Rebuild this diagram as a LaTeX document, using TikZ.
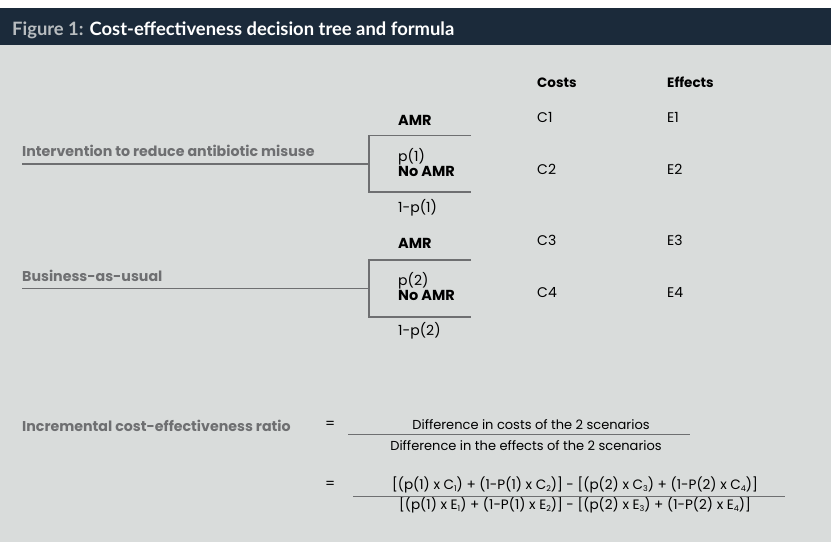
\documentclass[tikz,border=0pt]{standalone}
\usepackage{fontspec}
\setmainfont{Poppins}
\newfontfamily\titlefont{Lato}
\usetikzlibrary{positioning}
\definecolor{bandblue}{HTML}{1B2A3A}
\definecolor{panelgrey}{HTML}{D9DCDB}
\definecolor{labelgrey}{HTML}{6E6F71}
\definecolor{lightgrey}{HTML}{B8BCBF}
\newcommand{\lowix}[1]{\raisebox{-2.5pt}{\fontsize{8}{8}\selectfont #1}}

\begin{document}
\begin{tikzpicture}[x=1pt,y=-1pt,
	every node/.style={inner sep=0pt,anchor=base west,font=\fontsize{14}{16}\selectfont},
	head/.style={font=\fontsize{13.5}{16}\selectfont\bfseries},
	branch/.style={font=\fontsize{14.5}{16}\selectfont\bfseries},
	arm/.style={font=\fontsize{14.2}{16}\selectfont\bfseries,text=labelgrey},
	formula/.style={anchor=base,font=\fontsize{13}{15}\selectfont},
	tree/.style={draw=labelgrey,line width=1.1pt},
	fracline/.style={draw=labelgrey,line width=0.9pt}]
	\useasboundingbox (0,0) rectangle (831,542);
	% background and title band
	\fill[white] (0,0) rectangle (831,8);
	\fill[panelgrey] (0,45) rectangle (831,542);
	\fill[bandblue] (0,8) rectangle (831,45);
	\node (title) at (12,35) {\titlefont\fontsize{18.4}{20}\selectfont\bfseries
		\textcolor{lightgrey}{Figure 1:} \textcolor{white}{Cost-effectiveness decision tree and formula}};

	% column heads
	\node[head] (costs) at (537,87) {Costs};
	\node[head] (effects) at (667,87) {Effects};

	% first arm
	\node[arm] (arm1) at (22,156) {Intervention to reduce antibiotic misuse};
	\coordinate (s1) at (22,164);
	\coordinate (d1) at (369,164);
	\coordinate (u1) at (369,135.5);
	\coordinate (l1) at (369,192);
	\coordinate (ue1) at (471,135.5);
	\coordinate (le1) at (471,192);
	\node[branch] (amr1) at (398,125) {AMR};
	\node (p1) at (398,161) {p(1)};
	\node[branch] (noamr1) at (398,176) {No AMR};
	\node (q1) at (398,212) {1-p(1)};
	\node (c1) at (537,122) {C1};
	\node (e1) at (667,122) {E1};
	\node (c2) at (537,174) {C2};
	\node (e2) at (667,174) {E2};

	% second arm
	\node[arm] (arm2) at (22,281.5) {Business-as-usual};
	\coordinate (s2) at (22,288.5);
	\coordinate (d2) at (369,288.5);
	\coordinate (u2) at (369,260);
	\coordinate (l2) at (369,317);
	\coordinate (ue2) at (471,260);
	\coordinate (le2) at (471,317);
	\node[branch] (amr2) at (398,248) {AMR};
	\node (p2) at (398,285) {p(2)};
	\node[branch] (noamr2) at (398,300) {No AMR};
	\node (q2) at (398,335) {1-p(2)};
	\node (c3) at (537,245) {C3};
	\node (e3) at (667,245) {E3};
	\node (c4) at (537,297) {C4};
	\node (e4) at (667,297) {E4};

	% connect the tree
	\draw[tree] (s1) -- (d1);
	\draw[tree] (ue1) -- (u1) -- (l1) -- (le1);
	\draw[tree] (s2) -- (d2);
	\draw[tree] (ue2) -- (u2) -- (l2) -- (le2);

	% formula
	\node[arm] (icer) at (22,431.5) {Incremental cost-effectiveness ratio};
	\node (eq1) at (325,428) {=};
	\node[formula] (num1) at (531,429) {Difference in costs of the 2 scenarios};
	\node[formula] (den1) at (526,450) {Difference in the effects of the 2 scenarios};
	\coordinate (f1a) at (348,434);
	\coordinate (f1b) at (690,434);
	\draw[fracline] (f1a) -- (f1b);
	\node (eq2) at (325,488) {=};
	\node[formula,font=\fontsize{13.6}{15}\selectfont] (num2) at (575,489) {[(p(1) x C\lowix{1}) + (1-P(1) x C\lowix{2})] - [(p(2) x C\lowix{3}) + (1-P(2) x C\lowix{4})]};
	\node[formula,font=\fontsize{13.6}{15}\selectfont] (den2) at (575,509) {[(p(1) x E\lowix{1}) + (1-P(1) x E\lowix{2})] - [(p(2) x E\lowix{3}) + (1-P(2) x E\lowix{4})]};
	\coordinate (f2a) at (353,496);
	\coordinate (f2b) at (785,496);
	\draw[fracline] (f2a) -- (f2b);
\end{tikzpicture}
\end{document}
